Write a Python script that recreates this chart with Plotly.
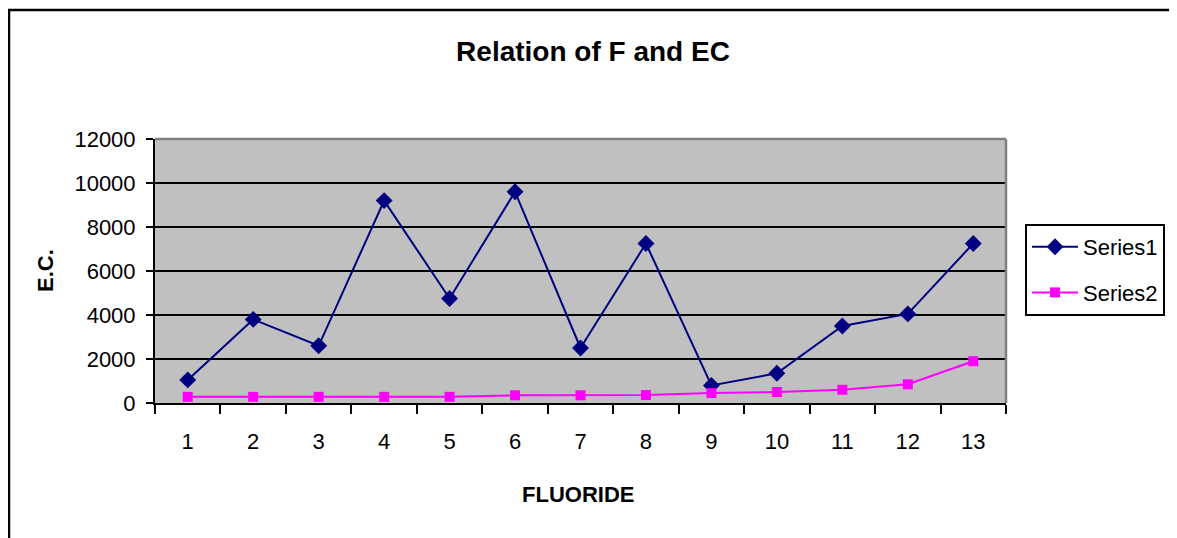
import plotly.graph_objects as go

categories = [str(i) for i in range(1, 14)]
series1 = [1050, 3800, 2600, 9200, 4750, 9600, 2500, 7250, 800, 1350, 3500, 4050, 7250]
series2 = [280, 280, 280, 280, 280, 350, 350, 360, 450, 500, 600, 850, 1900]
y_ticks = [0, 2000, 4000, 6000, 8000, 10000, 12000]

FONT = "Liberation Sans, Arial, sans-serif"
OFF = 8  # page body margin
W, H = 1177 - OFF, 538 - OFF
PL, PR, PT, PB = 155, 1006, 139, 403  # plot area in page pixels


def px(x):
    return (x - PL) / (PR - PL)


def py(y):
    return (PB - y) / (PB - PT)


fig = go.Figure()
fig.add_trace(go.Scatter(
    x=categories, y=series1, name="Series1", mode="lines+markers",
    line=dict(color="#000080", width=2),
    marker=dict(symbol="diamond", size=13, color="#000080"),
    legendgroup="a",
))
fig.add_trace(go.Scatter(
    x=categories, y=series2, name="Series2", mode="lines+markers",
    line=dict(color="#FF00FF", width=2),
    marker=dict(symbol="square", size=10, color="#FF00FF"),
    legendgroup="b",
))

fig.update_layout(
    width=W, height=H,
    margin=dict(l=PL - OFF, r=W - (PR - OFF), t=PT - OFF, b=H - (PB - OFF)),
    paper_bgcolor="white",
    plot_bgcolor="#C0C0C0",
    font=dict(family=FONT, size=22, color="black"),
    title=dict(text="<b>Relation of F and EC</b>", x=(593 - OFF) / W, xanchor="center",
               y=1 - (51 - OFF) / H, yanchor="middle", font=dict(size=28, family=FONT)),
    showlegend=True,
    legend=dict(x=px(1025), xanchor="left", y=py(224), yanchor="top",
                bordercolor="black", borderwidth=2, bgcolor="white", itemwidth=46,
                font=dict(size=22), tracegroupgap=14, traceorder="grouped"),
    xaxis=dict(type="category", range=[-0.5, len(categories) - 0.5], showgrid=False,
               showline=True, linecolor="black", linewidth=2,
               ticks="outside", tickson="boundaries", ticklen=9, tickwidth=1.5, tickcolor="black",
               ticklabelstandoff=18, tickfont=dict(size=22)),
    yaxis=dict(range=[0, 12000], tickvals=y_ticks, tickformat="d", showgrid=True,
               gridcolor="black", gridwidth=2,
               showline=True, linecolor="black", linewidth=2, zeroline=False,
               ticks="outside", ticklen=7, tickwidth=1.5, tickcolor="black",
               ticklabelstandoff=6, tickfont=dict(size=22)),
    annotations=[
        dict(text="<b>FLUORIDE</b>", x=px(578), y=py(494), xref="paper", yref="paper",
             xanchor="center", yanchor="middle", showarrow=False, font=dict(size=22)),
        dict(text="<b>E.C.</b>", x=px(45), y=0.5, xref="paper", yref="paper",
             xanchor="center", yanchor="middle", showarrow=False, textangle=-90, font=dict(size=22)),
    ],
    shapes=[
        dict(type="rect", xref="paper", yref="paper", x0=px(9), x1=1.3,
             y0=-0.7, y1=py(10), line=dict(color="black", width=2.5)),
        dict(type="line", xref="paper", yref="paper", x0=0, x1=1, y0=1, y1=1,
             line=dict(color="#808080", width=2.5)),
        dict(type="line", xref="paper", yref="paper", x0=1, x1=1, y0=0, y1=1,
             line=dict(color="#808080", width=2.5)),
    ],
)

fig.write_html("out.html")
